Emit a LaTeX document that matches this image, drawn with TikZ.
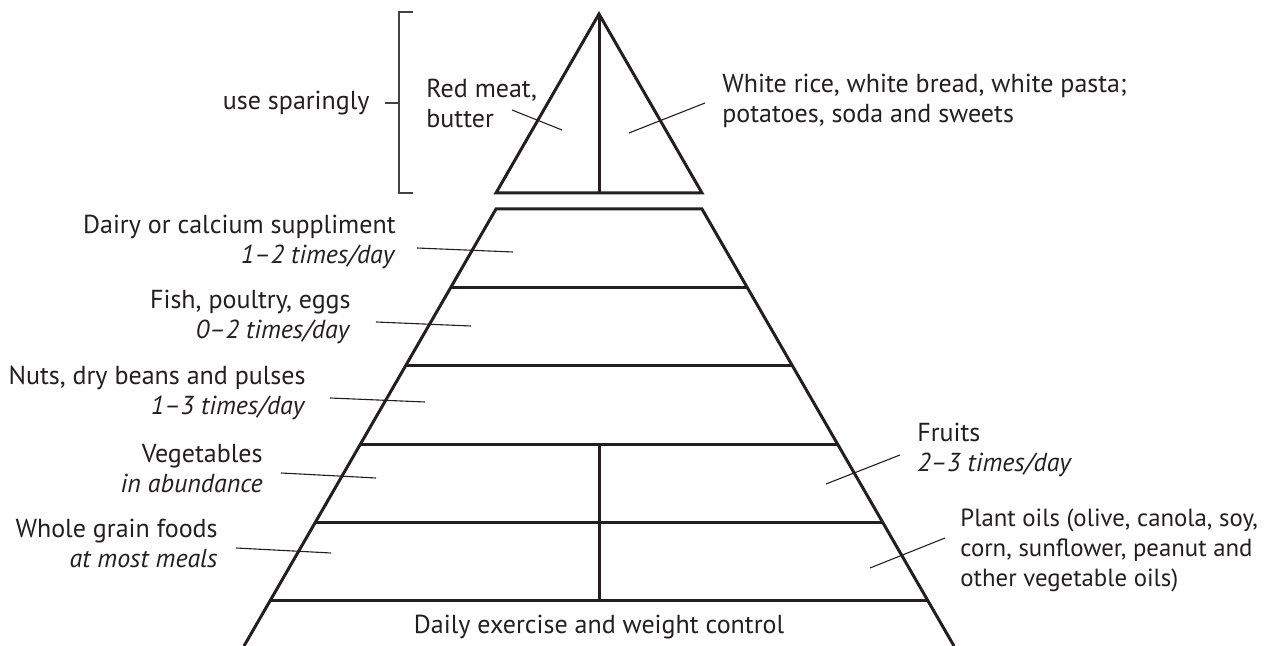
\documentclass[tikz,border=0pt]{standalone}
\usepackage{fontspec}
\setmainfont{PT Sans}
\definecolor{ink}{HTML}{231F20}
\begin{document}
\begin{tikzpicture}[x=0.5pt,y=-0.5pt,
  thick line/.style={draw=ink,line width=1.5pt,line join=miter},
  leader/.style={draw=ink,line width=0.55pt},
  brk/.style={draw=ink!85,line width=0.7pt},
  lbl/.style={inner sep=0pt,text=ink,font=\fontsize{13pt}{15pt}\selectfont},
  lblr/.style={lbl,align=right,anchor=east},
  lbll/.style={lbl,align=left,anchor=west}]
\useasboundingbox[fill=white] (0,0) rectangle (1266,646);
% top triangle
\draw[thick line] (599,14) -- (702,193) -- (496,193) -- cycle;
\draw[thick line] (599,14) -- (599,193);
% lower trapezoid
\draw[thick line] (244,646) -- (496,209) -- (702,209) -- (954,646);
\foreach \y in {287.4,365.8,444.2,522.6,601}{
  \pgfmathsetmacro{\hw}{103+0.5765*(\y-209)}
  \draw[thick line] ({599-\hw},\y) -- ({599+\hw},\y);
}
\draw[thick line] (599,444.2) -- (599,601);
% bracket
\draw[brk] (413,12) -- (399,12) -- (399,193) -- (413,193);
\draw[brk] (385,103) -- (399,103);
% labels
\node[lblr] (use) at (370,103) {use sparingly};
\node[lbll] (red) at (426,103) {Red meat,\\butter};
\node[lbll] (white) at (722,101) {White rice, white bread, white pasta;\\potatoes, soda and sweets};
\node[lblr] (dairy) at (396,242) {Dairy or calcium suppliment\\\textit{1–2 times/day}};
\node[lblr] (fish) at (351,317) {Fish, poultry, eggs\\\textit{0–2 times/day}};
\node[lblr] (nuts) at (306,393) {Nuts, dry beans and pulses\\\textit{1–3 times/day}};
\node[lblr] (veg) at (263,469) {Vegetables\\\textit{in abundance}};
\node[lblr] (whole) at (218,543) {Whole grain foods\\\textit{at most meals}};
\node[lbll] (fruits) at (917,450) {Fruits\\\textit{2–3 times/day}};
\node[lbll,font=\fontsize{12.4pt}{15pt}\selectfont] (oils) at (960,550) {Plant oils (olive, canola, soy,\\corn, sunflower, peanut and\\other vegetable oils)};
\node[lbl] (daily) at (599,627) {Daily exercise and weight control};
% leader lines
\coordinate (redA) at (512,110); \coordinate (redB) at (562,130);
\coordinate (whA) at (705,103); \coordinate (whB) at (629,133);
\coordinate (daA) at (417,248); \coordinate (daB) at (513,252);
\coordinate (fiA) at (376,322); \coordinate (fiB) at (471,326);
\coordinate (nuA) at (330,398); \coordinate (nuB) at (425,402);
\coordinate (veA) at (281,473); \coordinate (veB) at (376,478);
\coordinate (whoA) at (236,548); \coordinate (whoB) at (331,553);
\coordinate (frA) at (900,455); \coordinate (frB) at (826,484);
\coordinate (oiA) at (945,538); \coordinate (oiB) at (870,568);
\foreach \a/\b in {redA/redB,whA/whB,daA/daB,fiA/fiB,nuA/nuB,veA/veB,whoA/whoB,frA/frB,oiA/oiB}
  \draw[leader] (\a) -- (\b);
\end{tikzpicture}
\end{document}
